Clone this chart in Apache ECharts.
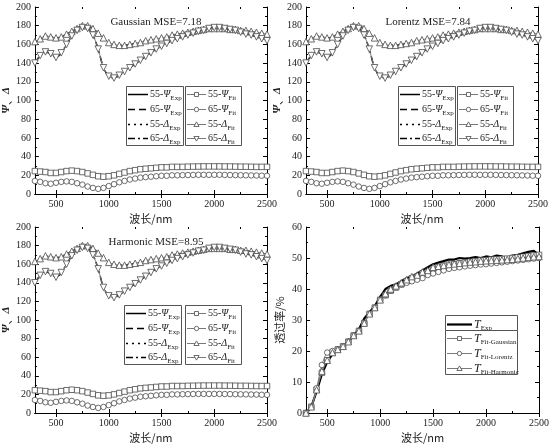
<!DOCTYPE html>
<html>
<head>
<meta charset="utf-8">
<script src="https://cdn.jsdelivr.net/npm/echarts@6/dist/echarts.min.js"></script>
<style>
  html, body { margin: 0; padding: 0; background: #fff; }
  #main { width: 554px; height: 445px; }
</style>
</head>
<body>
<div id="main"></div>
<script>
// wavelength grid, nm
var wavelength = [300, 350, 400, 450, 500, 550, 600, 650, 700, 750, 800, 850, 900, 950, 1000,
  1050, 1100, 1150, 1200, 1250, 1300, 1350, 1400, 1450, 1500, 1550, 1600, 1650, 1700, 1750,
  1800, 1850, 1900, 1950, 2000, 2050, 2100, 2150, 2200, 2250, 2300, 2350, 2400, 2450, 2500];

// ellipsometry, degrees
var psi55 = [24.5, 24, 23.5, 22.5, 22.5, 23.5, 24.5, 25, 24.5, 23.5, 22, 20.5, 19, 18.5, 19,
  20, 21.5, 23, 24.5, 25.5, 26.5, 27, 27.5, 28, 28.5, 28.5, 29, 29, 29, 29.2,
  29.3, 29.4, 29.5, 29.5, 29.5, 29.5, 29.4, 29.4, 29.3, 29.2, 29.2, 29.1, 29, 29, 29];
var psi65 = [14, 13, 11.5, 11, 12, 13, 13.5, 13, 11.5, 10, 8, 6.5, 5.5, 6.5, 8.5,
  10.5, 12.5, 14, 15.5, 16.5, 17.5, 18, 18.5, 19, 19.5, 19.5, 20, 20, 20.2, 20.3,
  20.4, 20.5, 20.5, 20.5, 20.5, 20.5, 20.4, 20.3, 20.2, 20.1, 20, 19.9, 19.8, 19.6, 19.5];
var delta55 = [163, 166, 169, 168, 167, 168, 171, 174, 177, 180, 180, 177, 172, 167, 162,
  160, 159, 159, 160, 161, 162, 164, 165, 166, 167, 168, 170, 171, 172, 173,
  174, 175, 176, 177, 177, 177, 177, 176, 176, 175, 175, 174, 173, 172, 171];
var delta65 = [140, 148, 152, 150, 146, 151, 160, 169, 175, 178, 177, 170, 155, 135, 126,
  124, 127, 131, 135, 139, 143, 147, 151, 155, 158, 161, 164, 166, 168, 170,
  172, 174, 175, 177, 178, 178, 177, 176, 175, 173, 171, 170, 168, 166, 164];

// transmittance, %
var tExp = [0, 2, 7, 12.5, 16.5, 19, 20.5, 21.5, 23, 25, 27, 30.5, 32.5, 34.5, 37.5,
  40, 41, 41.5, 42.5, 43.5, 44, 45, 46, 47, 48, 48.5, 49, 49.5, 49.5, 50,
  49.8, 50, 50.3, 50, 50.5, 50.2, 50.8, 50.5, 50, 50.8, 51, 51.5, 52, 52.3, 51];
var tGauss = [0, 2, 7.5, 13, 17, 19.5, 20.5, 21.5, 23, 25, 26.5, 29, 32, 34, 36.5,
  38, 39.5, 40.5, 41.5, 42.5, 43.5, 44, 45, 45.5, 46.5, 47, 47.5, 47.8, 48, 48.3,
  48.5, 48.8, 49, 49.2, 49.3, 49.5, 49.6, 49.7, 49.8, 50, 50.2, 50.4, 50.6, 50.8, 51];
var tLorentz = [0, 2, 8, 15.5, 19.5, 20, 20.5, 21.5, 23, 25, 26.5, 29, 32, 34, 36.5,
  38, 39.5, 40.5, 41.5, 42, 42.5, 43, 43.5, 44.5, 45, 45.5, 46, 46.5, 46.8, 47,
  47.3, 47.5, 47.7, 47.9, 48, 48.2, 48.4, 48.6, 48.8, 49, 49.2, 49.4, 49.6, 49.8, 50];
var tHarm = [0, 2, 7.5, 13.5, 17, 19.5, 20.5, 21.5, 23, 25, 26.5, 29, 32, 34, 36.5,
  38.5, 40, 41, 42, 43, 44, 44.5, 45.5, 46, 47, 47.3, 47.6, 47.9, 48.1, 48.3,
  48.5, 48.7, 48.8, 49, 49.1, 49.2, 49.3, 49.4, 49.5, 49.6, 49.8, 50, 50.2, 50.4, 50.5];

var xTicks = [500, 1000, 1500, 2000, 2500];
var xMinor = [750, 1250, 1750, 2250];
var modelTitles = ['Gaussian MSE=7.18', 'Lorentz MSE=7.84', 'Harmonic MSE=8.95'];

var SERIF = '"Liberation Serif", "DejaVu Serif", serif';
var CJK = '"Noto Sans CJK SC", sans-serif';
var FIT = '#7a7a7a';
var MARK = '#4a4a4a';

function pairs(ys) {
  return ys.map(function (y, i) { return [wavelength[i], y]; });
}

var grids = [
  { left: 33, top: 7, width: 234, height: 187 },
  { left: 306, top: 7, width: 232, height: 187 },
  { left: 33, top: 227, width: 234, height: 186 },
  { left: 306, top: 227, width: 233, height: 186 }
];

var xAxes = [], yAxes = [], series = [], titles = [], graphics = [];

function addAxes(g, ymax, ystep, yname) {
  var line = { show: true, lineStyle: { color: '#000', width: 1 } };
  xAxes.push({
    gridIndex: g, type: 'value', min: 300, max: 2500, position: 'bottom',
    axisLine: line, splitLine: { show: false },
    axisTick: { inside: true, length: 4, customValues: xTicks, lineStyle: { color: '#000' } },
    axisLabel: {
      customValues: xTicks, fontFamily: SERIF, fontSize: 10, color: '#222', margin: 5,
      formatter: function (v) { return String(v); }
    },
    name: '波长/nm', nameLocation: 'middle', nameGap: 19,
    nameTextStyle: { fontFamily: CJK, fontSize: 11, color: '#222' }
  });
  var xBottom = xAxes.length - 1;
  xAxes.push({
    gridIndex: g, type: 'value', min: 300, max: 2500, position: 'top',
    axisLine: line, splitLine: { show: false }, axisLabel: { show: false },
    axisTick: { inside: true, length: 4, customValues: xTicks, lineStyle: { color: '#000' } }
  });
  ['bottom', 'top'].forEach(function (p) {
    xAxes.push({
      gridIndex: g, type: 'value', min: 300, max: 2500, position: p,
      axisLine: { show: false }, splitLine: { show: false }, axisLabel: { show: false },
      axisTick: { inside: true, length: 2, customValues: xMinor, lineStyle: { color: '#000' } }
    });
  });
  yAxes.push({
    gridIndex: g, type: 'value', min: 0, max: ymax, interval: ystep, position: 'left',
    axisLine: line, splitLine: { show: false },
    axisTick: { inside: true, length: 4, lineStyle: { color: '#000' } },
    minorTick: { show: true, splitNumber: 2, length: 2, lineStyle: { color: '#000' } },
    axisLabel: { fontFamily: SERIF, fontSize: 10, color: '#222', margin: 4 },
    name: yname, nameLocation: 'middle', nameGap: 21,
    nameTextStyle: {
      fontFamily: SERIF, fontSize: 11, color: '#222',
      rich: {
        g: { fontFamily: SERIF, fontStyle: 'italic', fontWeight: 'bold', fontSize: 11 },
        c: { fontFamily: CJK, fontSize: 11 }
      }
    }
  });
  var yLeft = yAxes.length - 1;
  yAxes.push({
    gridIndex: g, type: 'value', min: 0, max: ymax, interval: ystep, position: 'right',
    axisLine: line, splitLine: { show: false }, axisLabel: { show: false },
    axisTick: { inside: true, length: 4, lineStyle: { color: '#000' } },
    minorTick: { show: true, splitNumber: 2, length: 2, lineStyle: { color: '#000' } }
  });
  return { x: xBottom, y: yLeft };
}

// ---- legend boxes drawn as graphics ----
var legendRich = {
  n: { fontFamily: SERIF, fontSize: 10, color: '#222', verticalAlign: 'middle', lineHeight: 14 },
  g: { fontFamily: SERIF, fontSize: 10, fontStyle: 'italic', color: '#222', verticalAlign: 'middle', lineHeight: 14 },
  t: { fontFamily: SERIF, fontSize: 12, fontStyle: 'italic', color: '#222', verticalAlign: 'middle', lineHeight: 14 },
  s: { fontFamily: SERIF, fontSize: 7, color: '#222', verticalAlign: 'bottom', lineHeight: 14 }
};
function legendText(name) {
  var p = name.split('|');
  var big = p[0] === 'T' ? '{t|T}' : '{n|' + p[0] + '}{g|' + p[1] + '}';
  return big + '{s|' + p[2] + '}';
}
function markerShape(kind, cx, cy) {
  var st = { fill: '#fff', stroke: MARK, lineWidth: 0.8 };
  if (kind === 'rect') return { type: 'rect', shape: { x: cx - 2, y: cy - 2, width: 4, height: 4 }, style: st };
  if (kind === 'circle') return { type: 'circle', shape: { cx: cx, cy: cy, r: 2.2 }, style: st };
  if (kind === 'up') return { type: 'polygon', shape: { points: [[cx, cy - 2.6], [cx + 2.6, cy + 2], [cx - 2.6, cy + 2]] }, style: st };
  return { type: 'polygon', shape: { points: [[cx, cy + 2.6], [cx + 2.6, cy - 2], [cx - 2.6, cy - 2]] }, style: st };
}
// items: [name, lineColor, lineWidth, dash, marker]
function legendBox(x, y, w, h, rowH, lineW, items) {
  var kids = [{
    type: 'rect', shape: { x: x + 0.5, y: y + 0.5, width: w, height: h },
    style: { fill: '#fff', stroke: '#555', lineWidth: 1 }
  }];
  items.forEach(function (it, k) {
    var cy = Math.round(y + rowH / 2 + 1 + k * rowH) + 0.5;
    kids.push({
      type: 'line', shape: { x1: x + 2, y1: cy, x2: x + 2 + lineW, y2: cy },
      style: { stroke: it[1], lineWidth: it[2], lineDash: it[3] }
    });
    if (it[4]) kids.push(markerShape(it[4], x + 2 + lineW / 2, cy));
    kids.push({
      type: 'text', x: x + 4 + lineW, y: cy,
      style: { text: legendText(it[0]), rich: legendRich, verticalAlign: 'middle', fill: '#222' }
    });
  });
  graphics.push({ type: 'group', children: kids, z: 100 });
}

var expNames = ['55-|Ψ|Exp', '65-|Ψ|Exp', '55-|Δ|Exp', '65-|Δ|Exp'];
var fitNames = ['55-|Ψ|Fit', '65-|Ψ|Fit', '55-|Δ|Fit', '65-|Δ|Fit'];
var expDash = [null, [7, 4], [2, 4], [7, 3, 2, 3]];
var fitSymbols = ['rect', 'circle', 'triangle', 'triangle'];
var fitSizes = [5.5, 5.5, 6.5, 6.5];
var fitMarkers = ['rect', 'circle', 'up', 'down'];
var legendPos = [
  [126, 86, 185],
  [398, 86, 457],
  [124, 305, 185]
];

for (var g = 0; g < 3; g++) {
  var ax = addAxes(g, 200, 20, '{g|Ψ}{c|、}{g|Δ}');
  var vals = [psi55, psi65, delta55, delta65];
  vals.forEach(function (v, k) {
    series.push({
      name: expNames[k], type: 'line', xAxisIndex: ax.x, yAxisIndex: ax.y,
      data: pairs(v), symbol: 'none', smooth: 0.3,
      lineStyle: { color: '#000', width: 1.5, type: expDash[k] || 'solid' },
      z: 2
    });
  });
  vals.forEach(function (v, k) {
    series.push({
      name: fitNames[k], type: 'line', xAxisIndex: ax.x, yAxisIndex: ax.y,
      data: pairs(v), symbol: fitSymbols[k], symbolSize: fitSizes[k],
      symbolRotate: k === 3 ? 180 : 0, smooth: 0.3,
      lineStyle: { color: FIT, width: 1 },
      itemStyle: { color: '#fff', borderColor: MARK, borderWidth: 0.8 }, z: 3
    });
  });
  var lp = legendPos[g];
  legendBox(lp[0], lp[1], 57, 59, 14.7, 20, expNames.map(function (n, k) {
    return [n, '#000', 1.5, expDash[k], null];
  }));
  legendBox(lp[2], lp[1], 56, 59, 14.7, 19, fitNames.map(function (n, k) {
    return [n, FIT, 1, null, fitMarkers[k]];
  }));
  titles.push({
    text: modelTitles[g], left: grids[g].left + grids[g].width / 2 + 1, top: grids[g].top + 5,
    textAlign: 'center',
    textStyle: { fontFamily: SERIF, fontSize: 11, fontWeight: 'normal', color: '#222' }
  });
}

// transmittance panel
var axT = addAxes(3, 60, 10, '{c|透过率/%}');
series.push({
  name: 'T||Exp', type: 'line', xAxisIndex: axT.x, yAxisIndex: axT.y,
  data: pairs(tExp), symbol: 'none',
  lineStyle: { color: '#000', width: 2.2 }, z: 2
});
[[tGauss, 'T||Fit-Gaussian', 'rect', 5.5],
 [tLorentz, 'T||Fit-Lorentz', 'circle', 5.5],
 [tHarm, 'T||Fit-Harmonic', 'triangle', 6.5]].forEach(function (f) {
  series.push({
    name: f[1], type: 'line', xAxisIndex: axT.x, yAxisIndex: axT.y,
    data: pairs(f[0]), symbol: f[2], symbolSize: f[3], smooth: 0.3,
    lineStyle: { color: FIT, width: 1 },
    itemStyle: { color: '#fff', borderColor: MARK, borderWidth: 0.8 }, z: 3
  });
});
legendBox(445, 315, 72, 15, 15, 25, [['T||Exp', '#000', 2.2, null, null]]);
legendBox(445, 330, 72, 44, 14.7, 25, [
  ['T||Fit-Gaussian', FIT, 1, null, 'rect'],
  ['T||Fit-Lorentz', FIT, 1, null, 'circle'],
  ['T||Fit-Harmonic', FIT, 1, null, 'up']
]);

var chart = echarts.init(document.getElementById('main'), null, { renderer: 'canvas' });
chart.setOption({
  animation: false,
  backgroundColor: '#fff',
  title: titles,
  grid: grids,
  xAxis: xAxes,
  yAxis: yAxes,
  series: series,
  graphic: graphics
});
</script>
</body>
</html>
